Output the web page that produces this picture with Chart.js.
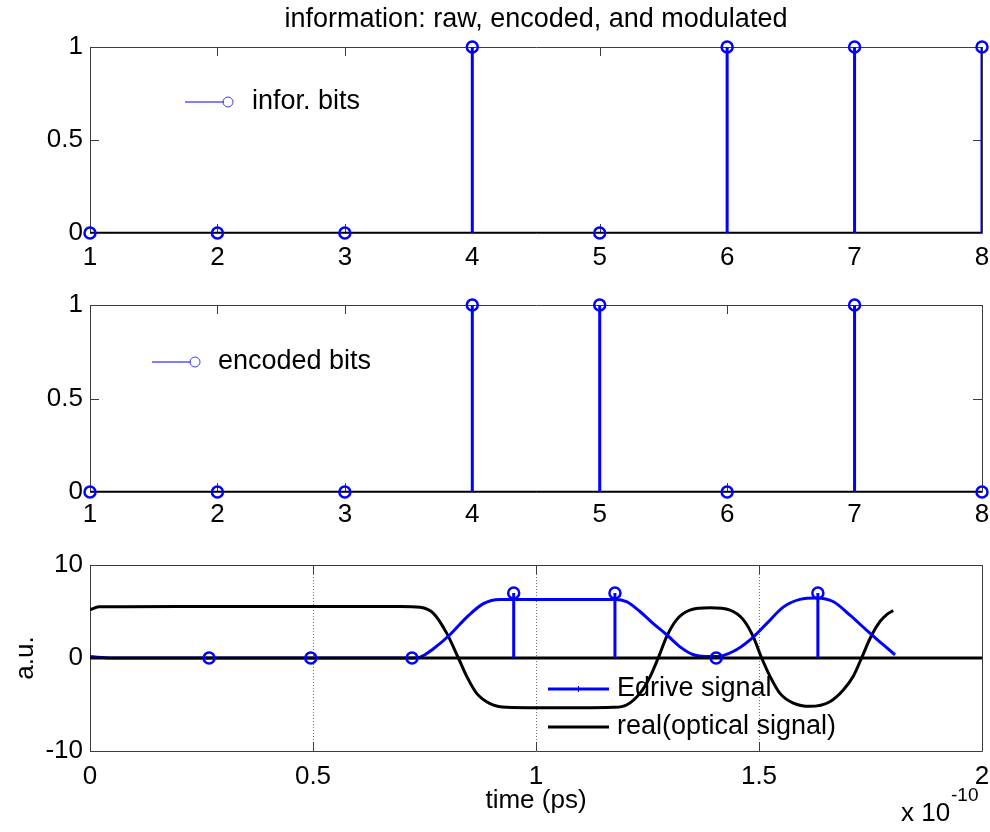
<!DOCTYPE html>
<html>
<head>
<meta charset="utf-8">
<script src="https://cdn.jsdelivr.net/npm/chart.js@4.4.0/dist/chart.umd.min.js"></script>
<style>
body { margin: 0; background: #fff; }
#wrap { position: relative; width: 990px; height: 832px; }
canvas { position: absolute; left: 0; }
</style>
</head>
<body>
<div id="wrap">
<canvas id="c1" width="990" height="280" style="top:0px"></canvas>
<canvas id="c2" width="990" height="260" style="top:280px"></canvas>
<canvas id="c3" width="990" height="292" style="top:540px"></canvas>
</div>
<script>
// bits
const bitIndex = [1, 2, 3, 4, 5, 6, 7, 8];
const inforBits = [0, 0, 0, 1, 0, 1, 1, 1];
const encodedBits = [0, 0, 0, 1, 1, 0, 1, 0];

// sampled drive levels (x 1e-10 s)
const sampleTimes = [0.267, 0.495, 0.722, 0.95, 1.177, 1.404, 1.632];
const sampleLevels = [0, 0, 0, 7, 7, 0, 7];

// Edrive signal
const edriveT = [0, 0.05, 0.2, 0.4, 0.6, 0.72, 0.74, 0.77, 0.807, 0.845, 0.882, 0.919, 0.95, 1.0, 1.1, 1.177,
  1.203, 1.233, 1.263, 1.293, 1.323, 1.353, 1.38, 1.404, 1.442, 1.48, 1.517, 1.555, 1.592, 1.629,
  1.667, 1.704, 1.741, 1.779, 1.805];
const edriveV = [0.15, 0, 0, 0, 0, 0, 0.1, 1.0, 2.5, 4.4, 5.85, 6.3, 6.3, 6.3, 6.3, 6.3,
  6.05, 5.0, 3.7, 2.5, 1.2, 0.35, 0.15, 0.15, 0.7, 1.95, 3.7, 5.5, 6.3, 6.45,
  6.05, 4.6, 3.0, 1.4, 0.35];

// real(optical signal)
const opticalT = [0, 0.02, 0.2, 0.5, 0.695, 0.74, 0.77, 0.8, 0.826, 0.845, 0.867, 0.897, 0.934, 1.0, 1.1,
  1.173, 1.203, 1.233, 1.256, 1.274, 1.293, 1.315, 1.345, 1.39, 1.435, 1.465, 1.487, 1.506, 1.525,
  1.547, 1.577, 1.614, 1.659, 1.689, 1.711, 1.73, 1.749, 1.771, 1.787, 1.801];
const opticalV = [5.2, 5.5, 5.55, 5.55, 5.55, 5.45, 4.8, 2.65, 0, -2.0, -3.8, -4.9, -5.3, -5.35, -5.35,
  -5.3, -5.05, -3.8, -2.0, 0, 2.3, 4.1, 5.15, 5.4, 5.15, 4.1, 2.3, 0, -2.0,
  -3.8, -4.85, -5.2, -4.7, -3.45, -2.0, 0, 2.1, 3.9, 4.7, 5.1];

const bitTicks = [0, 0.5, 1];
const auTicks = [-10, 0, 10];
const timeTicks = [0, 0.5, 1, 1.5, 2];

const FONT = "'Liberation Sans', Arial, Helvetica, sans-serif";
const BLUE = '#0000ff';
Chart.defaults.font.family = FONT;
Chart.defaults.font.size = 26;
Chart.defaults.color = '#000';

function stemSegments(xs, ys) {
    let pts = [];
    for (let i = 0; i < xs.length; i++)
        pts.push({x: xs[i], y: 0}, {x: xs[i], y: ys[i]}, {x: xs[i], y: null});
    return pts;
}

function markers(xs, ys) {
    return xs.map((x, i) => ({x: x, y: ys[i]}));
}

function plainLabel(v) {
    return String(v);
}

// matlab style box with inward ticks
const boxPlugin = {
    id: 'mbox',
    beforeDatasetsDraw(chart) {
        const {ctx, chartArea: a} = chart;
        const xs = chart.scales.x, ys = chart.scales.y;
        ctx.save();
        ctx.strokeStyle = '#3c3c3c';
        ctx.lineWidth = 1;
        ctx.beginPath();
        ctx.rect(a.left + 0.5, a.top + 0.5, a.right - a.left, a.bottom - a.top);
        xs.ticks.forEach(t => {
            const px = Math.round(xs.getPixelForValue(t.value)) + 0.5;
            ctx.moveTo(px, a.bottom); ctx.lineTo(px, a.bottom - 9);
            ctx.moveTo(px, a.top); ctx.lineTo(px, a.top + 9);
        });
        ys.ticks.forEach(t => {
            const py = Math.round(ys.getPixelForValue(t.value)) + 0.5;
            ctx.moveTo(a.left, py); ctx.lineTo(a.left + 9, py);
            ctx.moveTo(a.right, py); ctx.lineTo(a.right - 9, py);
        });
        ctx.stroke();
        ctx.restore();
    }
};

// legend drawn inside the axes, no frame
const legendPlugin = {
    id: 'mlegend',
    afterDatasetsDraw(chart, args, opts) {
        if (!opts.rows) return;
        const ctx = chart.ctx;
        ctx.save();
        opts.rows.forEach(r => {
            const ds = chart.data.datasets[r.index];
            ctx.strokeStyle = ds.borderColor;
            ctx.lineWidth = r.width;
            ctx.beginPath();
            ctx.moveTo(opts.x0, r.y);
            ctx.lineTo(opts.x1, r.y);
            ctx.stroke();
            if (r.marker === 'circle') {
                ctx.lineWidth = 1;
                ctx.strokeStyle = '#3b3bff';
                ctx.beginPath();
                ctx.arc(opts.x1 + 4, r.y, 5, 0, 2 * Math.PI);
                ctx.stroke();
            }
            if (r.marker === 'tick') {
                const mx = (opts.x0 + opts.x1) / 2;
                ctx.lineWidth = 1;
                ctx.beginPath();
                ctx.moveTo(mx, r.y - 3); ctx.lineTo(mx, r.y + 3);
                ctx.stroke();
            }
            ctx.fillStyle = '#000';
            ctx.font = '27px ' + FONT;
            ctx.textAlign = 'left';
            ctx.textBaseline = 'middle';
            ctx.fillText(ds.label, opts.textX, r.y);
        });
        ctx.restore();
    }
};

const exponentPlugin = {
    id: 'mexp',
    afterDraw(chart, args, opts) {
        if (!opts.show) return;
        const ctx = chart.ctx;
        ctx.save();
        ctx.fillStyle = '#000';
        ctx.textAlign = 'left';
        ctx.textBaseline = 'middle';
        ctx.font = '26px ' + FONT;
        ctx.fillText('x 10', 901, 274);
        ctx.font = '19px ' + FONT;
        ctx.fillText('-10', 951, 256);
        ctx.restore();
    }
};

function fixX(h) {
    return s => { s.height = h; s.paddingLeft = 0; s.paddingRight = 0; };
}

function bitChart(id, values, label, axisH, tickPad, legend, title) {
    const data = {
        datasets: [{
                label: label,
                data: markers(bitIndex, values),
                showLine: false,
                borderColor: BLUE,
                pointBorderColor: BLUE,
                pointBackgroundColor: 'rgba(0,0,0,0)',
                pointRadius: 5.5,
                pointBorderWidth: 2.5,
                clip: false,
                order: 0
            }, {
                label: 'stems',
                data: stemSegments(bitIndex, values),
                showLine: true,
                spanGaps: false,
                borderColor: BLUE,
                borderWidth: 3,
                pointRadius: 0,
                order: 1
            }, {
                label: 'baseline',
                data: [{x: bitIndex[0], y: 0}, {x: bitIndex[bitIndex.length - 1], y: 0}],
                showLine: true,
                borderColor: '#000',
                borderWidth: 2.5,
                pointRadius: 0,
                order: 2
            }]
    };
    const config = {
        type: 'scatter',
        data: data,
        options: {
            responsive: false,
            animation: false,
            devicePixelRatio: 1,
            events: [],
            layout: {padding: {top: title ? 0 : 25, right: 8, bottom: 0, left: 0}},
            scales: {
                x: {
                    type: 'linear', min: 1, max: 8,
                    afterBuildTicks: s => { s.ticks = bitIndex.map(v => ({value: v})); },
                    afterFit: fixX(axisH),
                    grid: {display: false, drawTicks: false},
                    border: {display: false},
                    ticks: {padding: tickPad, maxRotation: 0, autoSkip: false, callback: plainLabel}
                },
                y: {
                    type: 'linear', min: 0, max: 1,
                    afterBuildTicks: s => { s.ticks = bitTicks.map(v => ({value: v})); },
                    afterFit: s => { s.width = 90; },
                    grid: {display: false, drawTicks: false},
                    border: {display: false},
                    ticks: {padding: 7, callback: plainLabel}
                }
            },
            plugins: {
                legend: {display: false},
                tooltip: {enabled: false},
                title: title ? {
                    display: true, text: title, fullSize: false,
                    font: {size: 27, weight: 'normal'}, color: '#000',
                    padding: {top: 3, bottom: 11.6}
                } : {display: false},
                mlegend: legend
            }
        },
        plugins: [boxPlugin, legendPlugin]
    };
    new Chart(document.getElementById(id).getContext('2d'), config);
}

bitChart('c1', inforBits, 'infor. bits', 47, 9,
    {x0: 185, x1: 224, textX: 252, rows: [{index: 0, width: 1, marker: 'circle', y: 102}]},
    'information: raw, encoded, and modulated');
bitChart('c2', encodedBits, 'encoded bits', 48, 7,
    {x0: 152, x1: 191, textX: 218, rows: [{index: 0, width: 1, marker: 'circle', y: 82}]},
    null);

function signalChart(id) {
    const data = {
        datasets: [{
                label: 'Edrive signal',
                data: markers(edriveT, edriveV),
                showLine: true,
                borderColor: BLUE,
                borderWidth: 3,
                pointRadius: 0,
                cubicInterpolationMode: 'monotone',
                order: 3
            }, {
                label: 'real(optical signal)',
                data: markers(opticalT, opticalV),
                showLine: true,
                borderColor: '#000',
                borderWidth: 3,
                pointRadius: 0,
                cubicInterpolationMode: 'monotone',
                order: 4
            }, {
                label: 'samples',
                data: markers(sampleTimes, sampleLevels),
                showLine: false,
                borderColor: BLUE,
                pointBorderColor: BLUE,
                pointBackgroundColor: 'rgba(0,0,0,0)',
                pointRadius: 5.5,
                pointBorderWidth: 2.5,
                clip: false,
                order: 0
            }, {
                label: 'stems',
                data: stemSegments(sampleTimes, sampleLevels),
                showLine: true,
                spanGaps: false,
                borderColor: BLUE,
                borderWidth: 3,
                pointRadius: 0,
                order: 1
            }, {
                label: 'baseline',
                data: [{x: timeTicks[0], y: 0}, {x: timeTicks[timeTicks.length - 1], y: 0}],
                showLine: true,
                borderColor: '#000',
                borderWidth: 3,
                pointRadius: 0,
                order: 2
            }]
    };
    const config = {
        type: 'scatter',
        data: data,
        options: {
            responsive: false,
            animation: false,
            devicePixelRatio: 1,
            events: [],
            layout: {padding: {top: 25, right: 8, bottom: 0, left: 0}},
            scales: {
                x: {
                    type: 'linear', min: 0, max: 2,
                    afterBuildTicks: s => { s.ticks = timeTicks.map(v => ({value: v})); },
                    afterFit: fixX(81),
                    grid: {display: true, drawTicks: false, color: 'rgba(0,0,0,0.55)', lineWidth: 1},
                    border: {display: false, dash: [1, 2]},
                    ticks: {padding: 10, maxRotation: 0, autoSkip: false, callback: plainLabel},
                    title: {display: true, text: 'time (ps)', font: {size: 26}, padding: {top: 0, bottom: 16}}
                },
                y: {
                    type: 'linear', min: -10, max: 10,
                    afterBuildTicks: s => { s.ticks = auTicks.map(v => ({value: v})); },
                    afterFit: s => { s.width = 90; },
                    grid: {display: false, drawTicks: false},
                    border: {display: false},
                    ticks: {padding: 7, callback: plainLabel},
                    title: {display: true, text: 'a.u.', font: {size: 26}, padding: {top: 10, bottom: 0}}
                }
            },
            plugins: {
                legend: {display: false},
                tooltip: {enabled: false},
                mlegend: {x0: 548, x1: 609, textX: 617, rows: [
                        {index: 0, width: 3, marker: 'tick', y: 149},
                        {index: 1, width: 3, marker: null, y: 187}
                    ]},
                mexp: {show: true}
            }
        },
        plugins: [boxPlugin, legendPlugin, exponentPlugin]
    };
    new Chart(document.getElementById(id).getContext('2d'), config);
}

signalChart('c3');
</script>
</body>
</html>
